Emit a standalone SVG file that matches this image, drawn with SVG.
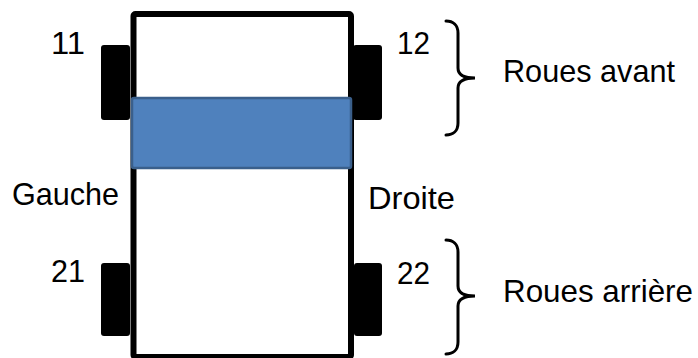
<svg xmlns="http://www.w3.org/2000/svg" width="698" height="358" viewBox="0 0 698 358">
<style>
.lbl{font-family:"Liberation Sans",Arial,sans-serif;font-size:30.5px;fill:#000}
.wheel{fill:#000}
.brace{fill:none;stroke:#000;stroke-width:3;stroke-linecap:round}
</style>
<rect width="698" height="358" fill="#fff"/>
<g id="body">
<rect x="133.5" y="14" width="217.5" height="343" fill="#fff" stroke="#000" stroke-width="6" rx="2"/>
</g>
<g id="wheel11"><rect class="wheel" x="101" y="45" width="29" height="75" rx="3"/><text class="lbl" x="51" y="54" textLength="34" lengthAdjust="spacingAndGlyphs">11</text></g>
<g id="wheel12"><rect class="wheel" x="353" y="45" width="29" height="75" rx="3"/><text class="lbl" x="397" y="54" textLength="33" lengthAdjust="spacingAndGlyphs">12</text></g>
<g id="wheel21"><rect class="wheel" x="101" y="263" width="29" height="73" rx="3"/><text class="lbl" x="51" y="282" textLength="34" lengthAdjust="spacingAndGlyphs">21</text></g>
<g id="wheel22"><rect class="wheel" x="354" y="263" width="28" height="73" rx="3"/><text class="lbl" x="397" y="284" textLength="33" lengthAdjust="spacingAndGlyphs">22</text></g>
<g id="bar"><rect x="132" y="98" width="219" height="70" fill="#4F81BD" stroke="#3A5F8B" stroke-width="2.5" rx="2"/></g>
<g id="sides">
<text class="lbl" x="12" y="205" textLength="107" lengthAdjust="spacingAndGlyphs">Gauche</text>
<text class="lbl" x="368" y="209" textLength="87" lengthAdjust="spacingAndGlyphs">Droite</text>
</g>
<g id="connectors">
<path class="brace" d="M446,21 C453,21 458,25 458,33 L458,68 C458,74 463,78 475,78 C463,78 458,82 458,88 L458,123 C458,131 453,135 446,135"/>
<path class="brace" d="M446,240 C453,240 458,244 458,252 L458,286 C458,292 463,296 475,296 C463,296 458,300 458,306 L458,342 C458,350 453,354 446,354"/>
</g>
<g id="groups">
<text class="lbl" x="503" y="82" textLength="172" lengthAdjust="spacingAndGlyphs">Roues avant</text>
<text class="lbl" x="503" y="302" textLength="190" lengthAdjust="spacingAndGlyphs">Roues arrière</text>
</g>
</svg>
